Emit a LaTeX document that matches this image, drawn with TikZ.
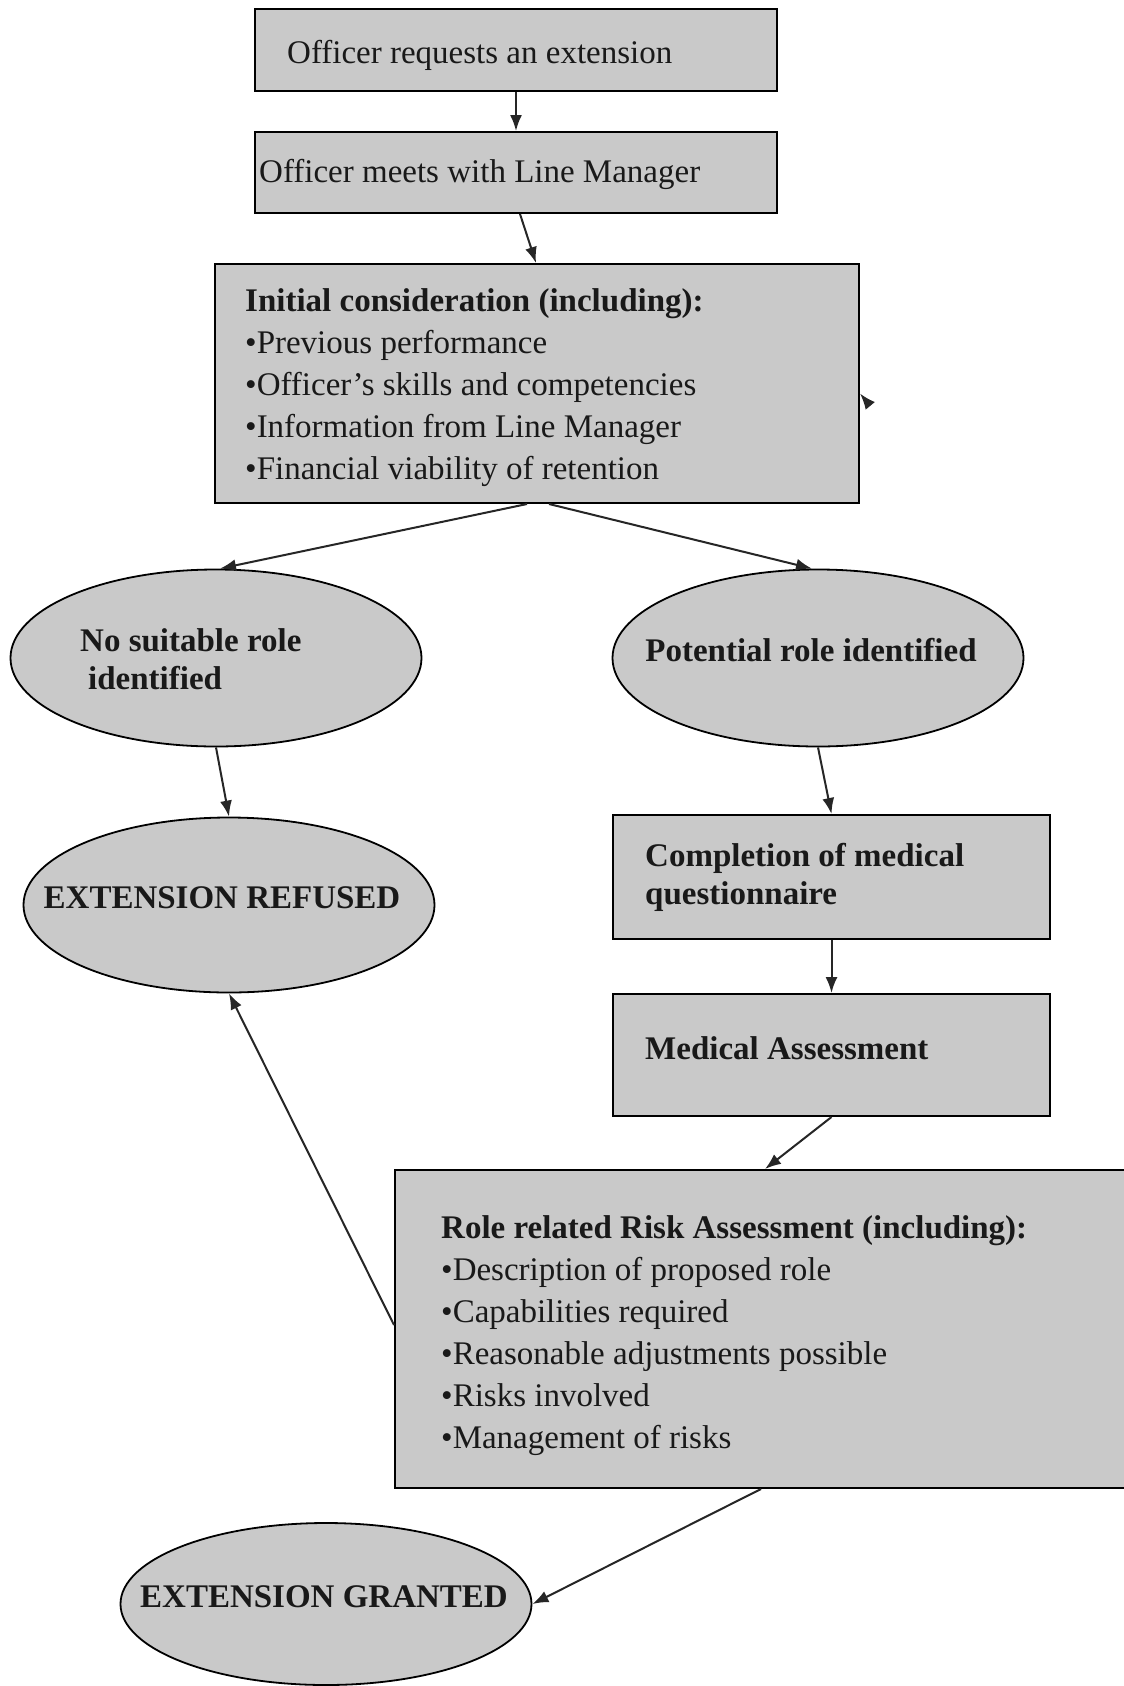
\documentclass[tikz,border=0pt]{standalone}
\usepackage{fontspec}
\setmainfont{Liberation Serif}
\usetikzlibrary{shapes.geometric,arrows.meta,calc}
\tikzset{
  boxshape/.style={draw=black,line width=2pt,fill=black!21,rectangle,inner sep=0pt},
  ovalshape/.style={draw=black,line width=1.8pt,fill=black!21,ellipse,inner sep=0pt,minimum width=411pt},
  txt/.style={inner sep=0pt,align=left,font=\fontsize{33}{42}\selectfont,text=black!90},
  btxt/.style={txt,font=\fontsize{33}{38}\selectfont\bfseries},
  conn/.style={line width=2pt,draw=black!85,-{Latex[length=16pt,width=12pt]}}
}
\begin{document}
\begin{tikzpicture}[x=1pt,y=-1pt]
\useasboundingbox (0,0) rectangle (1124,1686);
\clip (0,0) rectangle (1124,1686);
\fill[white] (0,0) rectangle (1124,1686);
% boxes
\node[boxshape,minimum width=522pt,minimum height=82pt] (b1) at (516,50) {};
\node[txt,anchor=west] (b1t) at (287,55) {Officer requests an extension};
\node[boxshape,minimum width=522pt,minimum height=81pt] (b2) at (516,172.5) {};
\node[txt,anchor=west] (b2t) at (259,174) {Officer meets with Line Manager};
\node[boxshape,minimum width=644pt,minimum height=239pt] (b3) at (537,383.5) {};
\node[txt,anchor=west] (b3t) at (245,388) {\textbf{Initial consideration (including):}\\
•Previous performance\\
•Officer’s skills and competencies\\
•Information from Line Manager\\
•Financial viability of retention};
% ellipses
\node[ovalshape,minimum height=177pt] (e1) at (216,658) {};
\node[btxt,anchor=west] (e1t) at (80,659) {No suitable role\\\hspace*{8pt}identified};
\node[ovalshape,minimum height=177pt] (e2) at (818,658) {};
\node[btxt] (e2t) at (811,650) {Potential role identified};
\node[ovalshape,minimum height=175pt] (e3) at (229,905) {};
\node[btxt] (e3t) at (222,898) {EXTENSION REFUSED};
% right column boxes
\node[boxshape,minimum width=437pt,minimum height=124pt] (c) at (831.5,877) {};
\node[btxt,anchor=west] (ct) at (645,877) {Completion of medical\\questionnaire};
\node[boxshape,minimum width=437pt,minimum height=122pt] (m) at (831.5,1055) {};
\node[btxt,anchor=west] (mt) at (645,1048) {Medical Assessment};
\node[boxshape,minimum width=755pt,minimum height=318pt] (r) at (772.5,1329) {};
\node[txt,anchor=west] (rt) at (441,1336) {\textbf{Role related Risk Assessment (including):}\\
•Description of proposed role\\
•Capabilities required\\
•Reasonable adjustments possible\\
•Risks involved\\
•Management of risks};
\node[ovalshape,minimum height=162pt] (e4) at (326,1604) {};
\node[btxt] (e4t) at (324,1597) {EXTENSION GRANTED};
% connectors
\draw[conn] (b1.south) -- (b2.north);
\draw[conn] ($(b2.south)+(4,0)$) -- ($(b3.north)+(-1,0)$);
\draw[conn] ($(b3.south)+(-10,0)$) -- ($(e1.north)+(4,0)$);
\draw[conn] ($(b3.south)+(12,0)$) -- ($(e2.north)+(-6,0)$);
\draw[conn] (e1.south) -- (e3.north);
\draw[conn] (e2.south) -- (c.north);
\draw[conn] (c.south) -- (m.north);
\draw[conn] (m.south) -- ($(r.north west)+(371,0)$);
\draw[conn] ($(r.west)+(0,-4)$) -- (e3.south);
\draw[conn] ($(r.south west)+(367,0)$) -- (e4.east);
\coordinate (stub) at ($(b3.east)+(10,22)$);
\draw[conn] (stub) -- ($(b3.east)+(0,10)$);
\end{tikzpicture}
\end{document}
